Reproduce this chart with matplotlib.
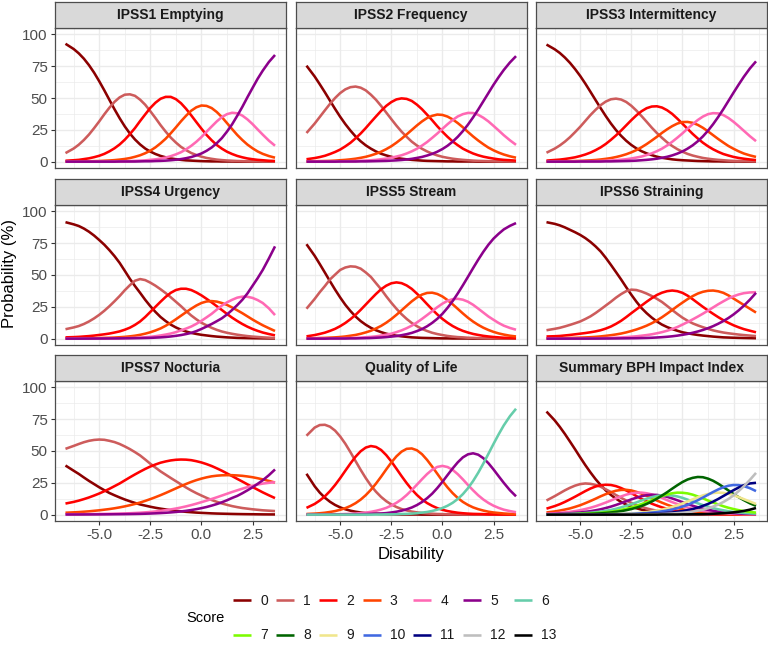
import matplotlib
matplotlib.use("Agg")
import matplotlib.pyplot as plt
from matplotlib.ticker import FixedLocator

plt.rcParams['font.family'] = ['Liberation Sans', 'DejaVu Sans']

# ---------------- data ----------------
disability = [-6.65, -6.25, -6.0, -5.75, -5.5, -5.25, -5.0, -4.75, -4.5, -4.25, -4.0,
              -3.75, -3.5, -3.25, -3.0, -2.75, -2.5, -2.25, -2.0, -1.75, -1.5, -1.25,
              -1.0, -0.75, -0.5, -0.25, 0.0, 0.25, 0.5, 0.75, 1.0, 1.25, 1.5, 1.75,
              2.0, 2.25, 2.5, 2.75, 3.0, 3.3, 3.6]

panel_titles = ["IPSS1 Emptying", "IPSS2 Frequency", "IPSS3 Intermittency",
                "IPSS4 Urgency", "IPSS5 Stream", "IPSS6 Straining",
                "IPSS7 Nocturia", "Quality of Life", "Summary BPH Impact Index"]

score_labels = ["0", "1", "2", "3", "4", "5", "6", "7", "8", "9", "10", "11", "12", "13"]
score_colors = ["#8B0000", "#CD5C5C", "#FF0000", "#FF4500", "#FF69B4", "#8B008B",
                "#66CDAA", "#7CFC00", "#006400", "#F0E68C", "#4169E1", "#000080",
                "#BEBEBE", "#000000"]

emptying = [
    [92.6, 88.5, 85.1, 80.9, 75.8, 69.9, 63.2, 56.0, 48.5, 41.1, 34.1, 27.7, 22.1, 17.4, 13.5, 10.3, 7.9, 6.0, 4.5, 3.4, 2.5, 1.9, 1.4, 1.0, 0.8, 0.6, 0.4, 0.3, 0.2, 0.2, 0.1, 0.1, 0.1, 0.0, 0.0, 0.0, 0.0, 0.0, 0.0, 0.0, 0.0],
    [6.7, 10.3, 13.3, 17.0, 21.3, 26.3, 31.6, 37.2, 42.4, 47.0, 50.5, 52.6, 52.9, 51.7, 48.7, 44.7, 39.6, 34.3, 28.7, 23.6, 18.9, 15.0, 11.6, 9.0, 6.8, 5.2, 3.9, 2.9, 2.2, 1.6, 1.2, 0.9, 0.7, 0.5, 0.4, 0.3, 0.2, 0.2, 0.1, 0.1, 0.0],
    [0.7, 1.1, 1.4, 2.0, 2.6, 3.5, 4.6, 6.1, 8.1, 10.5, 13.5, 17.2, 21.6, 26.4, 31.9, 37.1, 42.2, 46.3, 49.4, 50.9, 50.9, 49.1, 45.9, 41.5, 36.4, 31.1, 25.9, 21.0, 16.8, 13.1, 10.2, 7.8, 6.0, 4.5, 3.4, 2.5, 1.9, 1.4, 1.1, 0.7, 0.5],
    [0.1, 0.1, 0.1, 0.2, 0.3, 0.4, 0.5, 0.7, 0.9, 1.2, 1.6, 2.1, 2.8, 3.8, 5.0, 6.6, 8.6, 11.2, 14.4, 18.0, 22.3, 26.9, 31.7, 36.1, 40.0, 42.7, 44.1, 43.8, 42.1, 39.0, 35.0, 30.3, 25.6, 21.0, 17.0, 13.4, 10.5, 8.0, 6.1, 4.4, 3.1],
    [0.0, 0.0, 0.0, 0.0, 0.1, 0.1, 0.1, 0.1, 0.1, 0.2, 0.2, 0.3, 0.4, 0.6, 0.8, 1.0, 1.4, 1.8, 2.4, 3.2, 4.3, 5.7, 7.4, 9.7, 12.4, 15.6, 19.3, 23.5, 27.6, 31.6, 35.0, 37.3, 38.4, 38.0, 36.2, 33.2, 29.5, 25.3, 21.2, 16.5, 12.5],
    [0.0, 0.0, 0.0, 0.0, 0.0, 0.0, 0.0, 0.0, 0.0, 0.0, 0.1, 0.1, 0.1, 0.1, 0.2, 0.3, 0.3, 0.5, 0.6, 0.8, 1.1, 1.5, 2.0, 2.7, 3.6, 4.9, 6.4, 8.5, 11.1, 14.5, 18.5, 23.6, 29.3, 36.0, 43.0, 50.6, 57.9, 65.1, 71.5, 78.3, 83.8],
]

frequency = [
    [75.4, 66.9, 60.8, 54.5, 47.9, 41.4, 35.2, 29.5, 24.4, 19.8, 16.0, 12.8, 10.2, 8.0, 6.2, 4.9, 3.8, 2.9, 2.3, 1.8, 1.4, 1.1, 0.8, 0.6, 0.5, 0.4, 0.3, 0.2, 0.2, 0.1, 0.1, 0.1, 0.1, 0.0, 0.0, 0.0, 0.0, 0.0, 0.0, 0.0, 0.0],
    [22.5, 29.9, 35.1, 40.3, 45.4, 50.0, 53.9, 56.8, 58.5, 59.0, 58.1, 56.0, 52.6, 48.6, 43.8, 38.6, 33.4, 28.3, 23.6, 19.5, 15.7, 12.7, 10.1, 8.0, 6.3, 4.9, 3.8, 3.0, 2.3, 1.8, 1.4, 1.1, 0.8, 0.6, 0.5, 0.4, 0.3, 0.2, 0.2, 0.1, 0.1],
    [1.9, 2.8, 3.6, 4.6, 6.0, 7.6, 9.5, 12.0, 14.8, 18.3, 22.1, 26.4, 31.0, 35.5, 39.9, 43.8, 46.8, 48.9, 49.7, 49.3, 47.7, 44.8, 41.2, 36.9, 32.5, 27.8, 23.5, 19.5, 15.9, 12.9, 10.2, 8.2, 6.4, 5.0, 3.9, 3.1, 2.4, 1.8, 1.4, 1.1, 0.8],
    [0.2, 0.3, 0.4, 0.5, 0.6, 0.8, 1.1, 1.4, 1.8, 2.3, 3.0, 3.8, 4.9, 6.2, 7.8, 9.8, 12.1, 14.9, 18.0, 21.4, 24.9, 28.4, 31.6, 34.3, 36.0, 37.0, 36.7, 35.4, 33.2, 30.3, 27.0, 23.3, 19.8, 16.6, 13.7, 11.0, 8.9, 7.1, 5.6, 4.2, 3.1],
    [0.1, 0.1, 0.1, 0.1, 0.1, 0.2, 0.2, 0.3, 0.4, 0.5, 0.7, 0.9, 1.1, 1.4, 1.9, 2.4, 3.1, 4.0, 5.0, 6.4, 8.1, 10.1, 12.6, 15.4, 18.7, 22.1, 25.8, 29.4, 32.7, 35.5, 37.3, 38.3, 38.2, 36.8, 34.5, 31.6, 28.1, 24.5, 20.8, 16.8, 13.2],
    [0.0, 0.0, 0.0, 0.0, 0.0, 0.0, 0.1, 0.1, 0.1, 0.1, 0.2, 0.2, 0.3, 0.4, 0.5, 0.6, 0.8, 1.0, 1.3, 1.7, 2.2, 2.9, 3.7, 4.8, 6.1, 7.8, 9.9, 12.5, 15.7, 19.5, 24.0, 29.1, 34.8, 40.9, 47.4, 53.9, 60.4, 66.4, 72.0, 77.9, 82.9],
]

intermittency = [
    [92.0, 88.3, 85.4, 81.8, 77.6, 72.7, 67.3, 61.3, 54.9, 48.4, 42.0, 35.8, 30.0, 24.8, 20.3, 16.4, 13.1, 10.4, 8.2, 6.5, 5.1, 3.9, 3.0, 2.4, 1.8, 1.4, 1.1, 0.9, 0.7, 0.5, 0.4, 0.3, 0.2, 0.2, 0.1, 0.1, 0.1, 0.1, 0.0, 0.0, 0.0],
    [7.0, 10.2, 12.7, 15.7, 19.2, 23.2, 27.4, 32.0, 36.6, 40.7, 44.4, 47.2, 49.0, 49.5, 48.8, 46.9, 43.9, 40.1, 35.8, 31.3, 26.7, 22.5, 18.7, 15.2, 12.3, 9.8, 7.8, 6.1, 4.8, 3.8, 2.9, 2.3, 1.8, 1.4, 1.1, 0.8, 0.6, 0.5, 0.4, 0.3, 0.2],
    [0.8, 1.3, 1.6, 2.1, 2.7, 3.4, 4.4, 5.6, 7.1, 9.0, 11.2, 13.9, 17.1, 20.6, 24.4, 28.5, 32.6, 36.4, 39.6, 42.0, 43.3, 43.5, 42.5, 40.4, 37.5, 33.8, 29.8, 25.8, 21.8, 18.2, 14.9, 12.1, 9.7, 7.7, 6.0, 4.8, 3.7, 2.9, 2.3, 1.7, 1.2],
    [0.1, 0.2, 0.2, 0.3, 0.4, 0.5, 0.6, 0.8, 1.0, 1.3, 1.7, 2.2, 2.8, 3.6, 4.6, 5.8, 7.3, 9.1, 11.3, 13.8, 16.6, 19.5, 22.6, 25.4, 27.9, 29.9, 31.1, 31.2, 30.5, 28.9, 26.6, 23.8, 20.8, 17.8, 15.0, 12.3, 10.1, 8.1, 6.4, 4.9, 3.7],
    [0.0, 0.1, 0.1, 0.1, 0.1, 0.1, 0.2, 0.2, 0.3, 0.4, 0.5, 0.7, 0.9, 1.2, 1.5, 1.9, 2.5, 3.2, 4.0, 5.2, 6.5, 8.2, 10.2, 12.7, 15.6, 18.8, 22.2, 25.9, 29.4, 32.7, 35.4, 37.3, 38.1, 37.9, 36.6, 34.3, 31.3, 27.9, 24.3, 20.0, 16.1],
    [0.0, 0.0, 0.0, 0.0, 0.0, 0.0, 0.1, 0.1, 0.1, 0.1, 0.1, 0.2, 0.2, 0.3, 0.4, 0.5, 0.6, 0.8, 1.1, 1.4, 1.8, 2.3, 3.0, 3.8, 4.9, 6.3, 8.0, 10.2, 12.8, 16.0, 19.8, 24.3, 29.4, 35.1, 41.2, 47.7, 54.2, 60.5, 66.6, 73.2, 78.8],
]

urgency = [
    [91.5, 89.8, 88.5, 86.5, 84.0, 81.0, 77.5, 73.8, 69.5, 64.8, 59.5, 53.3, 47.0, 41.3, 36.0, 30.5, 25.5, 21.0, 17.0, 13.8, 11.0, 8.8, 7.0, 5.6, 4.5, 3.7, 3.0, 2.5, 2.0, 1.6, 1.3, 1.0, 0.8, 0.6, 0.5, 0.4, 0.3, 0.25, 0.2, 0.15, 0.1],
    [7.4, 8.8, 9.9, 11.5, 13.5, 15.9, 18.7, 21.9, 25.5, 29.4, 33.5, 38.0, 42.0, 45.5, 46.8, 46.0, 44.0, 41.6, 38.8, 35.8, 32.5, 29.0, 25.5, 21.7, 18.2, 15.2, 12.5, 10.4, 8.5, 6.9, 5.6, 4.6, 3.8, 3.1, 2.5, 2.0, 1.6, 1.3, 1.0, 0.75, 0.5],
    [1.0, 1.2, 1.4, 1.7, 2.0, 2.4, 2.9, 3.4, 4.0, 4.8, 5.7, 7.0, 8.6, 10.8, 13.5, 17.0, 21.0, 25.0, 29.0, 32.8, 36.0, 38.2, 39.2, 39.2, 38.2, 36.3, 34.0, 31.3, 28.5, 25.5, 22.5, 19.4, 16.5, 13.9, 11.5, 9.4, 7.6, 6.1, 4.8, 3.6, 2.6],
    [0.1, 0.12, 0.15, 0.2, 0.3, 0.4, 0.5, 0.6, 0.7, 0.85, 1.1, 1.4, 1.8, 2.3, 3.0, 3.9, 5.0, 6.4, 8.0, 10.1, 12.5, 15.2, 18.0, 20.8, 23.5, 26.0, 28.0, 29.2, 29.5, 29.1, 28.0, 26.5, 24.5, 22.3, 20.0, 17.5, 15.0, 12.7, 10.5, 8.2, 6.0],
    [0.0, 0.03, 0.05, 0.07, 0.1, 0.12, 0.15, 0.17, 0.2, 0.25, 0.3, 0.4, 0.5, 0.65, 0.8, 1.1, 1.4, 1.9, 2.5, 3.2, 4.0, 5.1, 6.5, 7.9, 9.5, 11.6, 14.0, 16.7, 19.5, 22.8, 26.0, 28.5, 30.5, 32.2, 33.0, 32.9, 32.0, 30.3, 28.0, 23.8, 18.5],
    [0.0, 0.0, 0.0, 0.03, 0.05, 0.07, 0.1, 0.12, 0.15, 0.17, 0.2, 0.25, 0.3, 0.35, 0.4, 0.5, 0.6, 0.8, 1.0, 1.3, 1.7, 2.2, 2.8, 3.6, 4.5, 5.9, 7.6, 9.5, 11.5, 13.7, 16.0, 19.0, 22.5, 26.3, 30.5, 35.5, 41.5, 47.5, 54.0, 63.0, 72.5],
]

stream = [
    [74.2, 65.1, 58.6, 51.9, 45.1, 38.5, 32.3, 26.6, 21.7, 17.4, 13.8, 10.9, 8.5, 6.6, 5.1, 3.9, 3.0, 2.3, 1.8, 1.4, 1.0, 0.8, 0.6, 0.5, 0.4, 0.3, 0.2, 0.2, 0.1, 0.1, 0.1, 0.1, 0.0, 0.0, 0.0, 0.0, 0.0, 0.0, 0.0, 0.0, 0.0],
    [23.5, 31.2, 36.5, 41.3, 46.5, 50.3, 54.0, 55.9, 56.8, 56.5, 55.0, 52.0, 48.5, 43.6, 38.8, 33.3, 28.2, 23.5, 19.2, 15.5, 12.3, 9.8, 7.6, 6.0, 4.6, 3.6, 2.8, 2.1, 1.6, 1.2, 1.0, 0.7, 0.6, 0.4, 0.3, 0.2, 0.2, 0.1, 0.1, 0.1, 0.1],
    [1.8, 2.8, 3.7, 4.7, 6.1, 7.7, 9.8, 12.3, 15.3, 18.7, 22.6, 26.8, 31.0, 35.1, 38.8, 41.6, 43.5, 44.2, 43.6, 41.8, 39.1, 35.4, 31.4, 27.1, 22.9, 19.0, 15.5, 12.5, 9.9, 7.8, 6.1, 4.8, 3.7, 2.9, 2.2, 1.7, 1.3, 1.0, 0.7, 0.6, 0.4],
    [0.2, 0.3, 0.5, 0.6, 0.8, 1.0, 1.3, 1.7, 2.3, 2.9, 3.8, 4.9, 6.2, 8.0, 10.0, 12.5, 15.4, 18.7, 22.2, 25.8, 29.3, 32.3, 34.6, 35.9, 36.1, 35.1, 33.1, 30.3, 27.0, 23.4, 19.8, 16.4, 13.4, 10.8, 8.6, 6.8, 5.3, 4.1, 3.2, 2.3, 1.7],
    [0.0, 0.1, 0.1, 0.1, 0.2, 0.2, 0.3, 0.4, 0.5, 0.6, 0.8, 1.1, 1.4, 1.8, 2.4, 3.1, 3.9, 5.1, 6.5, 8.2, 10.2, 12.7, 15.5, 18.5, 21.6, 24.7, 27.5, 29.7, 31.0, 31.3, 30.6, 29.0, 26.6, 23.6, 20.5, 17.4, 14.8, 12.3, 10.2, 8.4, 7.0],
    [0.0, 0.0, 0.0, 0.0, 0.1, 0.1, 0.1, 0.1, 0.2, 0.2, 0.3, 0.4, 0.5, 0.7, 0.9, 1.2, 1.6, 2.0, 2.7, 3.5, 4.5, 5.9, 7.5, 9.7, 12.4, 15.6, 19.5, 24.2, 29.5, 35.5, 41.9, 48.6, 55.4, 62.0, 68.2, 73.8, 78.6, 82.4, 85.8, 88.6, 90.8],
]

straining = [
    [91.5, 90.2, 89.0, 87.4, 85.5, 83.6, 81.5, 79.0, 76.0, 72.5, 68.5, 63.5, 58.0, 52.3, 46.5, 40.4, 34.5, 29.0, 24.0, 20.0, 16.5, 13.5, 11.0, 9.1, 7.5, 6.2, 5.0, 4.2, 3.5, 2.9, 2.4, 2.0, 1.6, 1.3, 1.0, 0.85, 0.7, 0.6, 0.5, 0.4, 0.3],
    [6.6, 7.7, 8.5, 9.6, 10.8, 12.1, 13.5, 15.4, 17.5, 20.1, 23.0, 26.0, 29.0, 32.2, 35.0, 37.3, 38.5, 38.2, 37.0, 35.4, 33.5, 31.3, 28.8, 25.7, 22.5, 19.4, 16.5, 14.1, 12.0, 10.4, 9.0, 7.7, 6.5, 5.6, 4.8, 4.2, 3.7, 3.2, 2.8, 2.4, 2.0],
    [1.7, 1.9, 2.1, 2.5, 2.9, 3.4, 3.9, 4.4, 5.0, 5.7, 6.6, 7.9, 9.5, 11.6, 14.0, 16.9, 20.0, 23.0, 26.0, 29.0, 31.8, 34.3, 36.1, 37.3, 37.8, 37.3, 36.0, 33.8, 31.0, 28.0, 25.0, 22.2, 19.5, 16.9, 14.5, 12.4, 10.5, 8.9, 7.5, 6.2, 5.0],
    [0.2, 0.3, 0.35, 0.45, 0.55, 0.65, 0.8, 0.95, 1.15, 1.4, 1.75, 2.2, 2.7, 3.3, 4.0, 4.9, 6.0, 7.2, 8.6, 10.2, 12.1, 14.3, 16.8, 19.6, 22.5, 25.5, 28.3, 31.0, 33.4, 35.4, 36.8, 37.6, 37.8, 37.2, 36.0, 34.0, 31.5, 29.0, 26.5, 23.5, 20.5],
    [0.05, 0.06, 0.07, 0.08, 0.1, 0.11, 0.13, 0.16, 0.2, 0.27, 0.35, 0.46, 0.6, 0.75, 0.95, 1.2, 1.5, 1.85, 2.3, 2.8, 3.4, 4.2, 5.1, 6.2, 7.5, 9.1, 11.0, 13.0, 15.1, 17.3, 19.6, 22.0, 24.5, 27.0, 29.3, 31.5, 33.3, 34.7, 35.7, 36.3, 36.5],
    [0.0, 0.0, 0.0, 0.0, 0.02, 0.02, 0.03, 0.04, 0.05, 0.06, 0.08, 0.1, 0.12, 0.15, 0.2, 0.25, 0.3, 0.35, 0.45, 0.55, 0.7, 0.9, 1.15, 1.45, 1.85, 2.35, 3.0, 3.7, 4.6, 5.6, 6.8, 8.2, 9.8, 11.7, 13.8, 16.2, 19.0, 22.2, 25.8, 30.6, 36.0],
]

nocturia = [
    [38.6, 34.5, 32.0, 29.2, 26.5, 24.0, 21.5, 19.2, 17.0, 15.2, 13.5, 11.9, 10.5, 9.2, 8.0, 7.1, 6.2, 5.4, 4.7, 4.1, 3.5, 3.0, 2.6, 2.2, 1.9, 1.6, 1.4, 1.2, 1.0, 0.85, 0.75, 0.65, 0.55, 0.47, 0.4, 0.35, 0.3, 0.25, 0.2, 0.17, 0.15],
    [51.7, 54.0, 55.5, 56.9, 58.0, 58.7, 59.0, 58.8, 58.0, 57.0, 55.5, 53.6, 51.5, 49.1, 46.5, 43.3, 40.0, 37.0, 34.0, 31.4, 28.8, 26.3, 23.8, 21.3, 19.0, 16.9, 15.0, 13.2, 11.5, 10.1, 8.8, 7.7, 6.7, 5.9, 5.2, 4.7, 4.2, 3.8, 3.4, 3.1, 2.8],
    [8.7, 10.0, 11.0, 12.2, 13.5, 15.0, 16.6, 18.4, 20.3, 22.4, 24.5, 26.9, 29.3, 31.6, 33.8, 35.9, 37.8, 39.4, 40.8, 41.8, 42.6, 43.1, 43.3, 43.2, 42.8, 42.0, 41.0, 39.7, 38.2, 36.4, 34.5, 32.4, 30.3, 28.1, 26.0, 23.8, 21.7, 19.6, 17.5, 15.2, 13.0],
    [1.5, 1.8, 2.0, 2.3, 2.6, 3.0, 3.4, 3.9, 4.4, 5.0, 5.7, 6.5, 7.4, 8.4, 9.5, 10.8, 12.2, 13.7, 15.3, 17.0, 18.8, 20.6, 22.4, 24.1, 25.7, 27.1, 28.3, 29.3, 30.1, 30.6, 30.9, 31.0, 31.0, 30.8, 30.5, 30.0, 29.4, 28.6, 27.7, 26.5, 25.2],
    [0.3, 0.33, 0.35, 0.38, 0.42, 0.47, 0.52, 0.58, 0.65, 0.73, 0.82, 0.95, 1.1, 1.3, 1.5, 1.8, 2.1, 2.5, 3.0, 3.5, 4.1, 4.8, 5.6, 6.5, 7.5, 8.6, 9.8, 11.0, 12.3, 13.6, 15.0, 16.4, 17.8, 19.1, 20.4, 21.6, 22.7, 23.6, 24.4, 25.0, 25.5],
    [0.1, 0.11, 0.12, 0.14, 0.16, 0.18, 0.2, 0.23, 0.26, 0.3, 0.34, 0.39, 0.45, 0.52, 0.6, 0.72, 0.86, 1.03, 1.23, 1.47, 1.75, 2.1, 2.5, 3.0, 3.6, 4.3, 5.1, 6.0, 7.1, 8.3, 9.7, 11.3, 13.1, 14.7, 16.8, 19.1, 21.5, 24.2, 27.0, 31.0, 35.5],
]

quality_of_life = [
    [32.1, 22.3, 17.3, 13.3, 10.1, 7.6, 5.7, 4.2, 3.1, 2.3, 1.7, 1.2, 0.9, 0.7, 0.5, 0.4, 0.3, 0.2, 0.1, 0.1, 0.1, 0.1] + [0.0] * 19,
    [62.0, 68.4, 70.4, 70.6, 69.1, 66.0, 61.4, 55.7, 49.1, 42.1, 35.2, 28.7, 22.9, 18.0, 13.9, 10.6, 8.0, 6.0, 4.4, 3.3, 2.4, 1.8, 1.3, 1.0, 0.7, 0.5, 0.4, 0.3, 0.2, 0.2, 0.1, 0.1, 0.1, 0.0, 0.0, 0.0, 0.0, 0.0, 0.0, 0.0, 0.0],
    [5.3, 8.4, 11.1, 14.4, 18.5, 23.3, 28.7, 34.5, 40.2, 45.5, 49.8, 52.7, 53.9, 53.2, 50.8, 46.8, 41.8, 36.1, 30.3, 24.8, 19.8, 15.5, 11.9, 9.1, 6.9, 5.1, 3.8, 2.8, 2.1, 1.5, 1.1, 0.8, 0.6, 0.5, 0.4, 0.2, 0.2, 0.1, 0.1, 0.1, 0.1],
    [0.5, 0.8, 1.1, 1.5, 2.1, 2.8, 3.8, 5.1, 6.8, 9.0, 11.8, 15.3, 19.5, 24.4, 29.8, 35.5, 41.0, 45.8, 49.5, 51.7, 52.0, 50.6, 47.5, 43.0, 37.7, 32.1, 26.5, 21.4, 16.9, 13.1, 10.0, 7.6, 5.7, 4.3, 3.2, 2.3, 1.7, 1.3, 0.9, 0.6, 0.4],
    [0.1, 0.1, 0.1, 0.1, 0.2, 0.3, 0.3, 0.5, 0.6, 0.9, 1.2, 1.6, 2.2, 3.0, 4.0, 5.3, 7.1, 9.3, 12.0, 15.4, 19.3, 23.5, 27.8, 31.9, 35.3, 37.5, 38.3, 37.4, 35.2, 31.8, 27.7, 23.3, 19.1, 15.2, 11.9, 9.2, 7.0, 5.3, 3.9, 2.8, 1.9],
    [0.0, 0.0, 0.0, 0.0, 0.0, 0.1, 0.1, 0.1, 0.1, 0.2, 0.3, 0.4, 0.6, 0.7, 0.9, 1.2, 1.7, 2.3, 3.1, 4.2, 5.6, 7.5, 9.9, 12.9, 16.5, 20.9, 25.8, 31.1, 36.3, 41.1, 45.0, 47.4, 48.2, 47.1, 44.4, 40.4, 35.5, 30.2, 25.0, 19.2, 14.4],
    [0.0] * 13 + [0.1, 0.1, 0.2, 0.2, 0.3, 0.5, 0.6, 0.8, 1.1, 1.6, 2.1, 2.9, 3.9, 5.2, 7.0, 9.3, 12.3, 16.1, 20.8, 26.4, 32.9, 40.1, 47.8, 55.6, 63.1, 70.1, 77.3, 83.2],
]

bph_impact = [
    [81.0, 74.1, 69.0, 63.4, 57.4, 51.3, 45.0, 38.9, 33.2, 27.9, 23.2, 19.0, 15.5, 12.5, 10.0, 7.9, 6.3, 5.0, 3.9, 3.1, 2.4, 1.9, 1.5, 1.2, 0.9, 0.7, 0.6, 0.4, 0.3, 0.3, 0.2, 0.2, 0.1, 0.1, 0.1, 0.1, 0.1, 0.0, 0.0, 0.0, 0.0],
    [11.1, 14.5, 16.8, 19.1, 21.1, 22.8, 24.0, 24.5, 24.2, 23.4, 21.9, 19.9, 17.8, 15.4, 13.2, 11.1, 9.2, 7.5, 6.1, 4.9, 3.9, 3.1, 2.4, 1.9, 1.5, 1.2, 0.9, 0.7, 0.6, 0.4, 0.4, 0.3, 0.2, 0.2, 0.1, 0.1, 0.1, 0.1, 0.0, 0.0, 0.0],
    [4.7, 6.7, 8.2, 10.0, 12.0, 14.1, 16.3, 18.5, 20.5, 22.1, 23.1, 23.5, 23.3, 22.4, 20.9, 19.0, 16.9, 14.6, 12.4, 10.5, 8.6, 7.1, 5.7, 4.6, 3.7, 2.9, 2.3, 1.8, 1.4, 1.1, 0.9, 0.7, 0.5, 0.4, 0.3, 0.3, 0.2, 0.2, 0.1, 0.1, 0.1],
    [1.7, 2.5, 3.2, 4.0, 4.9, 6.1, 7.4, 9.0, 10.7, 12.5, 14.4, 16.1, 17.6, 18.8, 19.4, 19.5, 19.0, 17.9, 16.5, 14.8, 13.0, 11.1, 9.4, 7.8, 6.4, 5.2, 4.2, 3.3, 2.7, 2.1, 1.7, 1.3, 1.0, 0.8, 0.6, 0.5, 0.4, 0.3, 0.2, 0.2, 0.1],
    [0.7, 1.1, 1.4, 1.8, 2.2, 2.8, 3.5, 4.4, 5.4, 6.6, 8.0, 9.5, 11.1, 12.8, 14.3, 15.7, 16.7, 17.2, 17.3, 16.8, 15.9, 14.6, 13.1, 11.4, 9.8, 8.3, 6.9, 5.6, 4.6, 3.7, 2.9, 2.3, 1.9, 1.5, 1.2, 0.9, 0.7, 0.6, 0.4, 0.3, 0.2],
    [0.3, 0.5, 0.7, 0.8, 1.1, 1.4, 1.7, 2.2, 2.7, 3.4, 4.2, 5.2, 6.3, 7.6, 9.0, 10.5, 12.0, 13.3, 14.5, 15.3, 15.6, 15.5, 14.9, 14.0, 12.7, 11.3, 9.8, 8.3, 7.0, 5.8, 4.7, 3.8, 3.1, 2.4, 1.9, 1.5, 1.2, 0.9, 0.7, 0.6, 0.4],
    [0.2, 0.3, 0.3, 0.5, 0.6, 0.7, 0.9, 1.2, 1.5, 1.9, 2.4, 3.0, 3.7, 4.6, 5.7, 6.9, 8.2, 9.6, 11.1, 12.5, 13.7, 14.7, 15.3, 15.4, 15.0, 14.3, 13.2, 11.8, 10.4, 8.9, 7.5, 6.3, 5.1, 4.2, 3.4, 2.7, 2.1, 1.7, 1.3, 1.0, 0.8],
    [0.1, 0.2, 0.2, 0.3, 0.3, 0.4, 0.6, 0.7, 0.9, 1.2, 1.5, 1.9, 2.3, 2.9, 3.7, 4.6, 5.6, 6.9, 8.3, 9.8, 11.4, 13.1, 14.6, 15.9, 16.8, 17.3, 17.2, 16.7, 15.7, 14.3, 12.8, 11.1, 9.5, 8.0, 6.6, 5.4, 4.4, 3.5, 2.8, 2.1, 1.6],
    [0.1, 0.1, 0.1, 0.2, 0.2, 0.3, 0.4, 0.5, 0.6, 0.8, 1.0, 1.3, 1.7, 2.2, 2.7, 3.5, 4.4, 5.5, 6.8, 8.4, 10.3, 12.5, 15.0, 17.6, 20.4, 23.1, 25.6, 27.6, 28.9, 29.6, 29.4, 28.3, 26.6, 24.3, 21.7, 19.0, 16.2, 13.7, 11.4, 8.9, 6.9],
    [0.0, 0.0, 0.0, 0.0, 0.1, 0.1, 0.1, 0.1, 0.1, 0.2, 0.2, 0.3, 0.4, 0.5, 0.6, 0.8, 1.0, 1.2, 1.6, 2.0, 2.5, 3.2, 3.9, 4.9, 6.0, 7.3, 8.8, 10.3, 12.0, 13.6, 15.1, 16.2, 17.0, 17.3, 17.1, 16.4, 15.3, 13.8, 12.2, 10.3, 8.4],
    [0.0, 0.0, 0.0, 0.0, 0.0, 0.0, 0.1, 0.1, 0.1, 0.1, 0.1, 0.2, 0.2, 0.3, 0.4, 0.5, 0.6, 0.8, 1.0, 1.2, 1.6, 2.0, 2.6, 3.2, 4.0, 5.1, 6.3, 7.7, 9.4, 11.3, 13.4, 15.6, 17.8, 19.8, 21.5, 22.7, 23.3, 23.2, 22.4, 20.8, 18.5],
    [0.0] * 10 + [0.1, 0.1, 0.1, 0.1, 0.2, 0.2, 0.2, 0.3, 0.4, 0.5, 0.7, 0.8, 1.1, 1.4, 1.7, 2.2, 2.8, 3.5, 4.4, 5.5, 6.9, 8.4, 10.2, 12.3, 14.6, 16.9, 19.2, 21.3, 23.1, 24.5, 25.0],
    [0.0] * 14 + [0.1, 0.1, 0.1, 0.2, 0.2, 0.3, 0.3, 0.4, 0.6, 0.7, 0.9, 1.2, 1.5, 1.9, 2.4, 3.1, 3.9, 5.0, 6.3, 7.9, 9.9, 12.3, 15.1, 18.5, 22.2, 27.3, 32.8],
    [0.0] * 22 + [0.1, 0.1, 0.1, 0.1, 0.2, 0.2, 0.3, 0.3, 0.4, 0.5, 0.7, 0.9, 1.1, 1.4, 1.8, 2.3, 2.9, 3.9, 5.2],
]

panel_data = [emptying, frequency, intermittency, urgency, stream, straining,
              nocturia, quality_of_life, bph_impact]

x_ticks = [-5.0, -2.5, 0.0, 2.5]
x_tick_labels = ["-5.0", "-2.5", "0.0", "2.5"]
y_ticks = [0, 25, 50, 75, 100]
y_tick_labels = ["0", "25", "50", "75", "100"]

# ---------------- layout (pixels) ----------------
W, H = 768, 645
fig = plt.figure(figsize=(W / 100, H / 100), dpi=100)

col_left = [55, 296, 536]
panel_w = 230.5
row_top = [28, 205, 381]
panel_h = 140
strip_h = 26.5

border_col = "#4D4D4D"
grid_col = "#EBEBEB"


def px_axes(left, top, w, h):
    return fig.add_axes([left / W, 1 - (top + h) / H, w / W, h / H])


legend_handles = None
for i, (title, curves) in enumerate(zip(panel_titles, panel_data)):
    r, c = divmod(i, 3)
    ax = px_axes(col_left[c], row_top[r], panel_w, panel_h)
    lines = []
    for k, ys in enumerate(curves):
        ln, = ax.plot(disability, ys, color=score_colors[k], lw=1.85,
                      solid_capstyle="butt", solid_joinstyle="round",
                      label=score_labels[k])
        lines.append(ln)
    if len(curves) == len(score_labels):
        legend_handles = lines
    ax.set_xlim(-7.1625, 4.1125)
    ax.set_ylim(-5, 105)
    ax.xaxis.set_major_locator(FixedLocator(x_ticks))
    ax.xaxis.set_minor_locator(FixedLocator([-6.25, -3.75, -1.25, 1.25, 3.75]))
    ax.yaxis.set_major_locator(FixedLocator(y_ticks))
    ax.yaxis.set_minor_locator(FixedLocator([12.5, 37.5, 62.5, 87.5]))
    ax.set_xticklabels(x_tick_labels)
    ax.set_yticklabels(y_tick_labels)
    ax.grid(which="major", color=grid_col, lw=1.0)
    ax.grid(which="minor", color=grid_col, lw=0.5)
    ax.set_axisbelow(True)
    for sp in ax.spines.values():
        sp.set_color(border_col)
        sp.set_linewidth(0.9)
    ax.tick_params(which="minor", length=0)
    ax.tick_params(which="major", length=3.0, width=0.8, color="#333333",
                   labelsize=11, labelcolor="#4D4D4D", pad=2.2)
    if c != 0:
        ax.tick_params(axis="y", which="both", left=False, labelleft=False)
    if r != 2:
        ax.tick_params(axis="x", which="both", bottom=False, labelbottom=False)

    sax = px_axes(col_left[c], row_top[r] - strip_h, panel_w, strip_h)
    sax.set_facecolor("#D9D9D9")
    sax.set_xticks([])
    sax.set_yticks([])
    for sp in sax.spines.values():
        sp.set_color(border_col)
        sp.set_linewidth(0.9)
    sax.text(0.5, 0.48, title, ha="center", va="center", fontsize=10,
             fontweight="bold", color="#1A1A1A", transform=sax.transAxes)

fig.text(411 / W, 1 - 555 / H, "Disability", ha="center", va="center",
         fontsize=12, color="black")
fig.text(10 / W, 1 - 274 / H, "Probability (%)", ha="center", va="center",
         rotation=90, fontsize=12, color="black")

order = [0, 7, 1, 8, 2, 9, 3, 10, 4, 11, 5, 12, 6, 13]
leg = fig.legend([legend_handles[j] for j in order], [score_labels[j] for j in order],
                 ncol=7, loc="center left", bbox_to_anchor=(233 / W, 1 - 618 / H),
                 frameon=False, fontsize=10, handlelength=1.3, handletextpad=0.65,
                 columnspacing=0.6, labelspacing=1.5, borderpad=0, borderaxespad=0)
for t in leg.get_texts():
    t.set_color("#1A1A1A")
fig.text(186 / W, 1 - 618 / H, "Score", ha="left", va="center", fontsize=10.5,
         color="black")

fig.savefig("out.png", dpi=100)
